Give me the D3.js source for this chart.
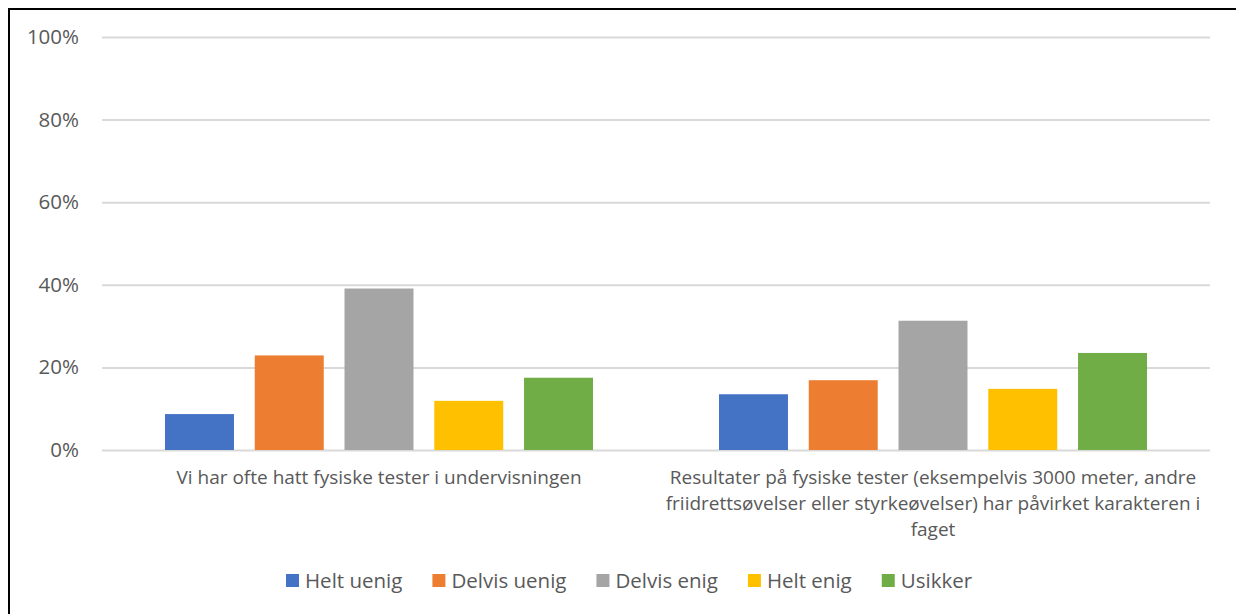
<!DOCTYPE html>
<html>
<head>
<meta charset="utf-8">
<script src="https://cdn.jsdelivr.net/npm/d3@7"></script>
<style>
  html, body { margin: 0; padding: 0; background: #fff; }
  svg { display: block; font-family: "Open Sans", sans-serif; }
</style>
</head>
<body>
<svg id="chart" width="1236" height="614"></svg>
<script>
// Survey statements (category labels are pre-wrapped into lines)
const categories = [
  ["Vi har ofte hatt fysiske tester i undervisningen"],
  ["Resultater på fysiske tester (eksempelvis 3000 meter, andre",
   "friidrettsøvelser eller styrkeøvelser) har påvirket karakteren i",
   "faget"]
];
const seriesNames = ["Helt uenig", "Delvis uenig", "Delvis enig", "Helt enig", "Usikker"];
const seriesColors = ["#4472C4", "#ED7D31", "#A5A5A5", "#FFC000", "#70AD47"];
// Share of answers per statement (0–1), one array per response option
const heltUenig   = [0.087, 0.135];
const delvisUenig = [0.229, 0.169];
const delvisEnig  = [0.391, 0.313];
const heltEnig    = [0.119, 0.148];
const usikker     = [0.175, 0.235];
const seriesValues = [heltUenig, delvisUenig, delvisEnig, heltEnig, usikker];
const yTicks = [0, 0.2, 0.4, 0.6, 0.8, 1.0];

const svg = d3.select("#chart");
const textColor = "#595959";
const gridColor = "#d9d9d9";

// Outer frame
svg.append("rect")
  .attr("x", 9).attr("y", 9)
  .attr("width", 1400).attr("height", 800)
  .attr("fill", "none").attr("stroke", "#000").attr("stroke-width", 2);

const plot = { left: 102, right: 1210, top: 37, bottom: 450 };

const x0 = d3.scaleBand()
  .domain(d3.range(categories.length))
  .range([plot.left, plot.right])
  .paddingInner(0).paddingOuter(0);

const groupPad = 63;
const x1 = d3.scaleBand()
  .domain(d3.range(seriesNames.length))
  .range([groupPad, x0.bandwidth() - groupPad])
  .paddingInner(0.2316).paddingOuter(0);

const y = d3.scaleLinear().domain([0, 1]).range([plot.bottom, plot.top]);

// Gridlines and y tick labels
const yAxis = d3.axisLeft(y)
  .tickValues(yTicks)
  .tickFormat(d3.format(".0%"))
  .tickSize(-(plot.right - plot.left))
  .tickPadding(23);

const gy = svg.append("g")
  .attr("transform", `translate(${plot.left},0)`)
  .call(yAxis);
gy.select(".domain").remove();
gy.selectAll(".tick line").attr("stroke", gridColor).attr("stroke-width", 2);
gy.selectAll(".tick text")
  .attr("fill", textColor)
  .attr("font-size", 20.5)
  .attr("font-family", "'Open Sans', sans-serif");

// Bars
const groups = svg.append("g").selectAll("g")
  .data(categories.map((c, i) => i))
  .join("g")
  .attr("transform", i => `translate(${x0(i)},0)`);

groups.selectAll("rect")
  .data(i => seriesValues.map((vals, s) => ({ s, v: vals[i] })))
  .join("rect")
  .attr("x", d => x1(d.s))
  .attr("width", x1.bandwidth())
  .attr("y", d => y(d.v))
  .attr("height", d => y(0) - y(d.v))
  .attr("fill", d => seriesColors[d.s]);

// Category labels
const xAxis = d3.axisBottom(x0).tickSize(0).tickFormat("");
const gx = svg.append("g")
  .attr("transform", `translate(0,${plot.bottom})`)
  .call(xAxis);
gx.select(".domain").remove();
gx.selectAll(".tick").each(function(i) {
  const t = d3.select(this).append("text")
    .attr("fill", textColor)
    .attr("font-size", 19)
    .attr("text-anchor", "middle")
    .attr("font-family", "'Open Sans', sans-serif");
  categories[i].forEach((line, k) => {
    t.append("tspan")
      .attr("x", 0)
      .attr("y", 34 + k * 26)
      .text(line);
  });
});

// Legend
const legend = svg.append("g").attr("transform", "translate(0,581)");
let lx = 286;
seriesNames.forEach((name, s) => {
  legend.append("rect")
    .attr("x", lx).attr("y", -7)
    .attr("width", 13).attr("height", 13)
    .attr("fill", seriesColors[s]);
  const t = legend.append("text")
    .attr("x", lx + 19).attr("y", 0)
    .attr("dy", "0.35em")
    .attr("fill", textColor)
    .attr("font-size", 20.5)
    .attr("font-family", "'Open Sans', sans-serif")
    .text(name);
  lx += 19 + t.node().getComputedTextLength() + 30;
});
</script>
</body>
</html>
